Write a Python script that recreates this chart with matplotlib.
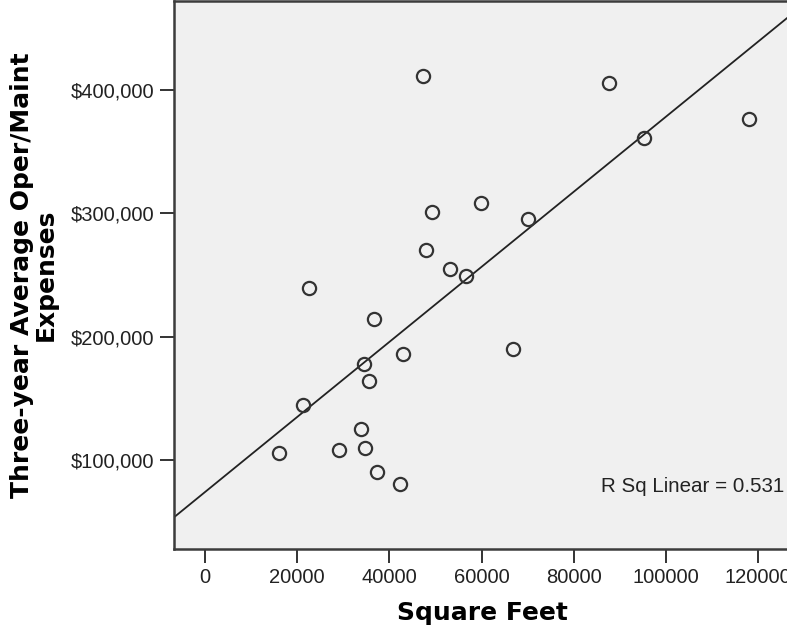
import numpy as np
import matplotlib.pyplot as plt

# building size vs. three-year average operating/maintenance expenses
sq_feet = [16100, 21300, 22600, 29100, 33800, 34500, 34700, 35600, 36700, 37400,
           42300, 42900, 47200, 47900, 49200, 53100, 56600, 59900, 66900, 70000,
           87700, 95200, 118100]
expenses = [105400, 144600, 239700, 108100, 124900, 177600, 110000, 164100, 214300, 90500,
            80300, 185900, 411300, 270300, 301300, 254600, 249400, 308100, 189800, 295400,
            405400, 360800, 376500]

x_ticks = [0, 20000, 40000, 60000, 80000, 100000, 120000]
y_ticks = [100000, 200000, 300000, 400000]

x = np.array(sq_feet, dtype=float)
y = np.array(expenses, dtype=float)
slope, intercept = np.polyfit(x, y, 1)

fig = plt.figure(figsize=(7.87, 6.33), dpi=100)
ax = fig.add_axes([174 / 787, 84 / 633, 616 / 787, 548 / 633])
ax.set_facecolor('#f0f0f0')

ax.set_xlim(-6720, 126900)
ax.set_ylim(27800, 472200)

xs = np.array(ax.get_xlim())
ax.plot(xs, intercept + slope * xs, color='#222222', lw=1.3, zorder=2)
ax.plot(x, y, 'o', ms=9.5, mfc='none', mec='#333333', mew=1.6, zorder=3)

ax.text(0.693, 0.114, 'R Sq Linear = 0.531', transform=ax.transAxes,
        ha='left', va='center', fontsize=14.8, family='Liberation Sans', color='#222222')

ax.set_xticks(x_ticks)
ax.set_xticklabels([str(v) for v in x_ticks])
ax.set_yticks(y_ticks)
ax.set_yticklabels(['${:,}'.format(v) for v in y_ticks])
for lab in ax.get_xticklabels() + ax.get_yticklabels():
    lab.set_family('Liberation Sans')
    lab.set_fontsize(14.5)
    lab.set_color('#222222')
ax.tick_params(length=10, width=1.4, pad=4, color='#333333')

for s in ax.spines.values():
    s.set_linewidth(1.8)
    s.set_color('#3c3c3c')

ax.set_xlabel('Square Feet', fontsize=18, fontweight='bold', family='DejaVu Sans')
ax.xaxis.set_label_coords(0.5, -0.095)
ax.set_ylabel('Three-year Average Oper/Maint\nExpenses', fontsize=18, fontweight='bold',
              family='DejaVu Sans', linespacing=1.0)
ax.yaxis.set_label_coords(-0.189, 0.5)

fig.savefig('out.png', dpi=100)
